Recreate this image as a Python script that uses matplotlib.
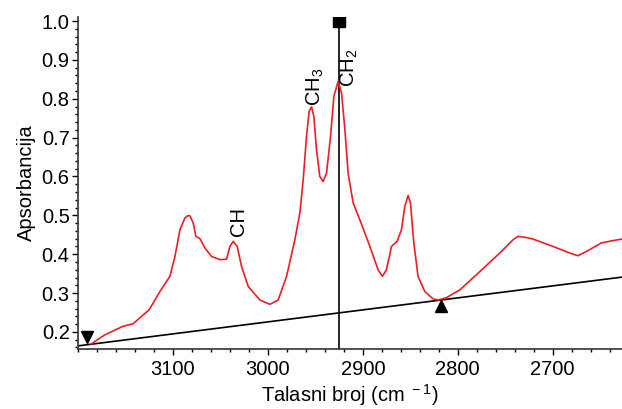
import numpy as np
import matplotlib.pyplot as plt
from matplotlib.ticker import MultipleLocator

plt.rcParams['font.family'] = ['Liberation Sans', 'DejaVu Sans']
plt.rcParams['mathtext.fontset'] = 'custom'
plt.rcParams['mathtext.rm'] = 'Liberation Sans'

# ============ DATA ============
# IR spectrum (wavenumber in cm-1, absorbance)
wavenumber = [3186, 3172, 3153, 3142, 3125, 3113.7, 3103.2, 3097.9, 3092.6,
              3087.4, 3084.5, 3082.1, 3078.6, 3075.8, 3071.6, 3066.3, 3059.3,
              3050.5, 3043.5, 3040, 3036.5, 3032.3, 3027.7, 3020.7, 3008.4,
              2997.9, 2989.2, 2980.3, 2971.6, 2966.3, 2962.8, 2959.3, 2956.5,
              2954, 2951.6, 2948.8, 2945.3, 2941.8, 2938.2, 2934, 2930.5,
              2926, 2922.4, 2918.9, 2915.5, 2910.2, 2903.2, 2892.6, 2883.9,
              2879.3, 2875.1, 2869.8, 2863.9, 2859.3, 2855.8, 2852.3, 2849.8,
              2846.3, 2841.8, 2834.7, 2826, 2820.7, 2812, 2797.9, 2776.8,
              2755.8, 2741.8, 2736.5, 2730, 2720.8, 2699.7, 2682, 2673.4,
              2664.5, 2648.7, 2636.5, 2627]
absorbance = [0.169, 0.192, 0.214, 0.221, 0.257, 0.304, 0.343, 0.394, 0.463,
              0.493, 0.499, 0.499, 0.480, 0.446, 0.440, 0.416, 0.394,
              0.386, 0.387, 0.420, 0.433, 0.420, 0.368, 0.317, 0.282,
              0.271, 0.282, 0.343, 0.437, 0.506, 0.592, 0.703, 0.768,
              0.779, 0.755, 0.669, 0.600, 0.587, 0.609, 0.703, 0.806,
              0.845, 0.815, 0.721, 0.609, 0.532, 0.489, 0.420, 0.360,
              0.343, 0.360, 0.420, 0.433, 0.463, 0.523, 0.551, 0.532,
              0.429, 0.343, 0.304, 0.285, 0.282, 0.288, 0.308, 0.355,
              0.403, 0.437, 0.446, 0.444, 0.439, 0.420, 0.403, 0.396,
              0.407, 0.429, 0.435, 0.439]

# baseline drawn between the two anchor points
baseline_x = [3200, 2627]
baseline_y = [0.164, 0.341]

# marked position of the CH2 band
marker_x = 2925
marker_top = 1.0

anchor_left = (3190, 0.188)
anchor_right = (2818, 0.266)

peak_labels = ['CH', 'CH$_3$', 'CH$_2$']
peak_label_x = [3031, 2950, 2914]
peak_label_y = [0.447, 0.782, 0.830]

# ============ PLOT ============
fig = plt.figure(figsize=(6.22, 4.09), dpi=100)
ax = fig.add_axes([0.1254, 0.1467, 0.8746, 0.8113])

ax.plot(wavenumber, absorbance, color='#f01c24', linewidth=1.2, zorder=3)
ax.plot(baseline_x, baseline_y, color='black', linewidth=1.2, zorder=2)
ax.plot([marker_x, marker_x], [0.0, marker_top], color='black', linewidth=1.2, zorder=2)
ax.plot(marker_x, marker_top, marker='s', color='black', markersize=8, zorder=4)
ax.plot(*anchor_left, marker='v', color='black', markersize=8, zorder=4)
ax.plot(*anchor_right, marker='^', color='black', markersize=8, zorder=4)

for lbl, lx, ly in zip(peak_labels, peak_label_x, peak_label_y):
    ax.text(lx, ly, lbl, rotation=90, ha='center', va='bottom', fontsize=14.5)

ax.set_xlim(3200, 2627)
ax.set_ylim(0.156, 1.01)
ax.xaxis.set_major_locator(MultipleLocator(100))
ax.xaxis.set_minor_locator(MultipleLocator(20))
ax.yaxis.set_major_locator(MultipleLocator(0.1))
ax.yaxis.set_minor_locator(MultipleLocator(0.02))
ax.set_xticks([3100, 3000, 2900, 2800, 2700])
ax.set_yticks(np.arange(0.2, 1.01, 0.1))
ax.yaxis.set_major_formatter(plt.FormatStrFormatter('%.1f'))

for side in ['top', 'right']:
    ax.spines[side].set_visible(False)
for side in ['left', 'bottom']:
    ax.spines[side].set_linewidth(1.2)
    ax.spines[side].set_color('#333333')

ax.tick_params(which='major', length=4, width=1.0, labelsize=14.5, pad=2)
ax.tick_params(which='minor', length=2.5, width=1.0)
ax.tick_params(axis='x', which='major', pad=4)

ax.set_xlabel(r'Talasni broj (cm$^{\mathregular{\ -1}}$)', fontsize=14.5, labelpad=2)
ax.set_ylabel('Apsorbancija', fontsize=14.5, labelpad=4)

plt.savefig('out.png', dpi=100)
